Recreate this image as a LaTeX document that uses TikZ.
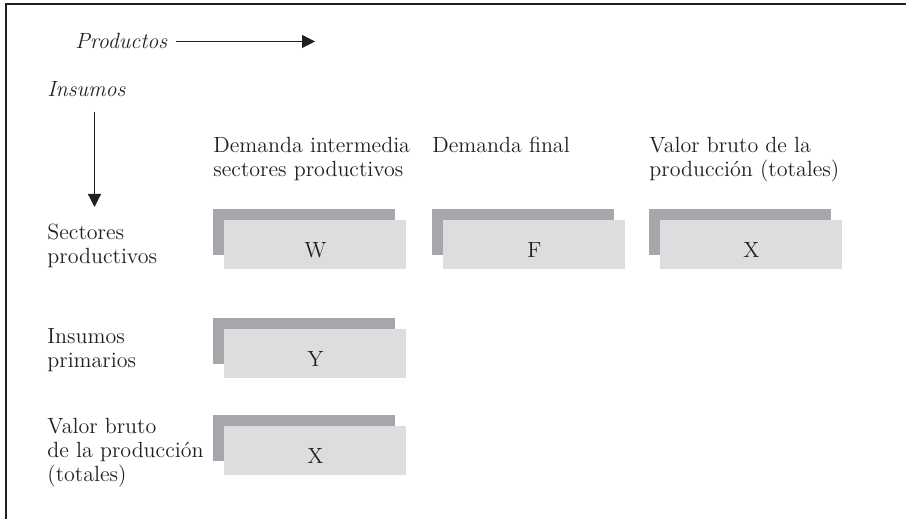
\documentclass[tikz,border=0pt]{standalone}
\usepackage{amsmath}
\usepackage{amssymb}
\usetikzlibrary{arrows.meta}
\definecolor{boxdark}{RGB}{166,167,171}
\definecolor{boxlight}{RGB}{220,221,223}
\definecolor{ink}{RGB}{35,31,32}

\begin{document}
\begin{tikzpicture}[x=0.5pt, y=-0.5pt,
  every node/.style = {inner sep=0pt, text=ink, font=\fontsize{11}{12}\selectfont},
  heading/.style = {anchor=north west, align=left},
  axisname/.style = {anchor=base west, font=\fontsize{11}{12}\selectfont\itshape},
  flow/.style = {draw=ink, line width=0.6pt, -{Triangle[length=6.5pt,width=6.5pt]}},
  backbox/.style = {anchor=north west, fill=boxdark, minimum width=91pt, minimum height=23pt},
  frontbox/.style = {anchor=north west, fill=boxlight, minimum width=91pt, minimum height=24.5pt,
                     text height=13pt, text depth=0pt},
  ]
  \useasboundingbox (0,0) rectangle (906,519);
  \draw[ink, line width=1pt] (906,4.5) -- (5.5,4.5) -- (5.5,519);

  % axis names
  \node[axisname] (prod) at (75,49) {Productos};
  \node[axisname] (ins) at (47,97) {Insumos};
  \coordinate (prodtip) at (315,43.5);
  \coordinate (instip) at (94.5,207);
  \draw[flow] ([xshift=4pt]prod.east) -- (prod.east -| prodtip);
  \draw[flow] ([yshift=-7pt]instip |- ins.south) -- (instip);

  % column headings
  \node[heading] (hdint) at (213,136.5) {Demanda intermedia\\sectores productivos};
  \node[heading] (hdfin) at (432,136.5) {Demanda final};
  \node[heading] (hdtot) at (649,136.5) {Valor bruto de la\\producción (totales)};

  % row headings
  \node[heading] (rwsec) at (47,224) {Sectores\\productivos};
  \node[heading] (rwpri) at (47,328) {Insumos\\primarios};
  \node[heading] (rwtot) at (47,418) {Valor bruto\\de la producción\\(totales)};

  % blocks
  \node[backbox] (bw) at (213,209) {};
  \node[frontbox] (w) at ([shift={(11,11)}]bw.north west) {W};
  \node[backbox] (bf) at (432,209) {};
  \node[frontbox] (f) at ([shift={(11,11)}]bf.north west) {F};
  \node[backbox] (bx) at (649,209) {};
  \node[frontbox] (x) at ([shift={(11,11)}]bx.north west) {X};
  \node[backbox] (by) at (213,318) {};
  \node[frontbox] (y) at ([shift={(11,11)}]by.north west) {Y};
  \node[backbox] (bt) at (213,415) {};
  \node[frontbox] (t) at ([shift={(11,11)}]bt.north west) {X};
\end{tikzpicture}
\end{document}
